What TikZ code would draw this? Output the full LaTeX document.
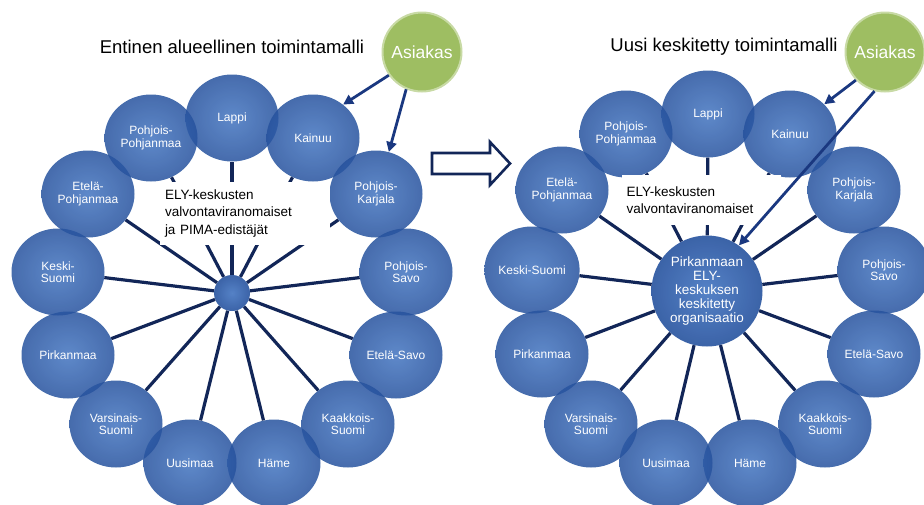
\documentclass[tikz,border=0pt]{standalone}
\usepackage{fontspec}
\setmainfont{Liberation Sans}
\usepackage{tikz}
\usepackage{xcolor}
\usetikzlibrary{shapes.geometric,arrows.meta}

\definecolor{ringin}{RGB}{66,116,192}
\definecolor{ringout}{RGB}{38,82,158}
\definecolor{spokenavy}{RGB}{18,38,88}
\definecolor{arrowblue}{RGB}{26,56,128}
\definecolor{asiakasgreen}{RGB}{158,190,98}
\definecolor{asiakasrim}{RGB}{200,218,165}

\tikzset{
  region/.style={ellipse, minimum width=93pt, minimum height=87pt, inner sep=0pt,
    inner color=ringin, outer color=ringout, fill opacity=0.85, text opacity=1,
    text=white, align=center, font=\fontsize{12}{12.5}\selectfont},
  hub/.style={circle, inner sep=0pt, inner color=ringin, outer color=ringout,
    fill opacity=0.9, text opacity=1, text=white, align=center,
    font=\fontsize{13.5}{14}\selectfont},
  asiakas/.style={circle, minimum size=79pt, inner sep=0pt, fill=asiakasgreen,
    draw=asiakasrim, line width=2pt, text=white, font=\fontsize{17.5}{18}\selectfont},
  title/.style={font=\fontsize{18.5}{20}\selectfont},
  note/.style={fill=white, inner xsep=5pt, inner ysep=0pt, align=left,
    font=\fontsize{13.5}{17.5}\selectfont},
  spoke/.style={draw=spokenavy, line width=3.2pt},
  tocenter/.style={draw=arrowblue, line width=2.8pt, -{Triangle[length=10pt,width=10pt]}}
}

\begin{document}
\begin{tikzpicture}[x=1pt, y=-1pt]
\useasboundingbox (0,0) rectangle (924,504);

\node[title] (titleL) at (232,47) {Entinen alueellinen toimintamalli};
\node[title] (titleR) at (724,47) {Uusi keskitetty toimintamalli};

\node[region] (lapL) at (232,118) {Lappi};
\node[region] (kaiL) at (313,138) {Kainuu};
\node[region] (pkaL) at (376,194) {Pohjois-\\Karjala};
\node[region] (psaL) at (406,272) {Pohjois-\\Savo};
\node[region] (esaL) at (396,355) {Etelä-Savo};
\node[region] (kksL) at (348,424) {Kaakkois-\\Suomi};
\node[region] (hamL) at (274,463) {Häme};
\node[region] (uusL) at (190,463) {Uusimaa};
\node[region] (vsuL) at (116,424) {Varsinais-\\Suomi};
\node[region] (pirL) at (68,355) {Pirkanmaa};
\node[region] (ksuL) at (58,272) {Keski-\\Suomi};
\node[region] (epoL) at (88,194) {Etelä-\\Pohjanmaa};
\node[region] (ppoL) at (151,138) {Pohjois-\\Pohjanmaa};
\node[hub, minimum size=36pt] (hubL) at (232,293) {};

\draw[spoke] (hubL) -- (lapL);
\draw[spoke] (hubL) -- (kaiL);
\draw[spoke] (hubL) -- (pkaL);
\draw[spoke] (hubL) -- (psaL);
\draw[spoke] (hubL) -- (esaL);
\draw[spoke] (hubL) -- (kksL);
\draw[spoke] (hubL) -- (hamL);
\draw[spoke] (hubL) -- (uusL);
\draw[spoke] (hubL) -- (vsuL);
\draw[spoke] (hubL) -- (pirL);
\draw[spoke] (hubL) -- (ksuL);
\draw[spoke] (hubL) -- (epoL);
\draw[spoke] (hubL) -- (ppoL);

\node[note, text width=160pt, minimum height=63pt] (noteL) at (245,213.5)
  {ELY-keskusten\\valvontaviranomaiset\\ja PIMA-edistäjät};

\node[asiakas] (asL) at (422,52) {Asiakas};
\draw[tocenter] (asL.215) -- (kaiL.48);
\draw[tocenter] (asL.247) -- (pkaL.73);

\draw[draw=spokenavy, line width=2.6pt, fill=white]
  (432,153) -- (490,153) -- (490,142) -- (510,163.5) -- (490,185) -- (490,174) -- (432,174) -- cycle;

\node[region] (lapR) at (708,114) {Lappi};
\node[region] (kaiR) at (790,134) {Kainuu};
\node[region] (pkaR) at (854,190) {Pohjois-\\Karjala};
\node[region] (psaR) at (884,270) {Pohjois-\\Savo};
\node[region] (esaR) at (874,354) {Etelä-Savo};
\node[region] (kksR) at (825,424) {Kaakkois-\\Suomi};
\node[region] (hamR) at (750,463) {Häme};
\node[region] (uusR) at (666,463) {Uusimaa};
\node[region] (vsuR) at (591,424) {Varsinais-\\Suomi};
\node[region] (pirR) at (542,354) {Pirkanmaa};
\node[region] (ksuR) at (532,270) {Keski-Suomi};
\node[region] (epoR) at (562,190) {Etelä-\\Pohjanmaa};
\node[region] (ppoR) at (626,134) {Pohjois-\\Pohjanmaa};
\node[hub, minimum size=111pt] (hubR) at (707,291)
  {Pirkanmaan\\ELY-\\keskuksen\\keskitetty\\organisaatio};

\draw[spoke] (hubR) -- (lapR);
\draw[spoke] (hubR) -- (kaiR);
\draw[spoke] (hubR) -- (pkaR);
\draw[spoke] (hubR) -- (psaR);
\draw[spoke] (hubR) -- (esaR);
\draw[spoke] (hubR) -- (kksR);
\draw[spoke] (hubR) -- (hamR);
\draw[spoke] (hubR) -- (uusR);
\draw[spoke] (hubR) -- (vsuR);
\draw[spoke] (hubR) -- (pirR);
\draw[spoke] (hubR) -- (ksuR);
\draw[spoke] (hubR) -- (epoR);
\draw[spoke] (hubR) -- (ppoR);

\node[note, text width=149pt, minimum height=50pt] (noteR) at (701,200)
  {ELY-keskusten\\valvontaviranomaiset};

\node[asiakas] (asR) at (885,52) {Asiakas};
\draw[tocenter] (asR.224) -- (kaiR.41);
\draw[tocenter] (asR.255) -- (hubR.55);
\end{tikzpicture}
\end{document}
